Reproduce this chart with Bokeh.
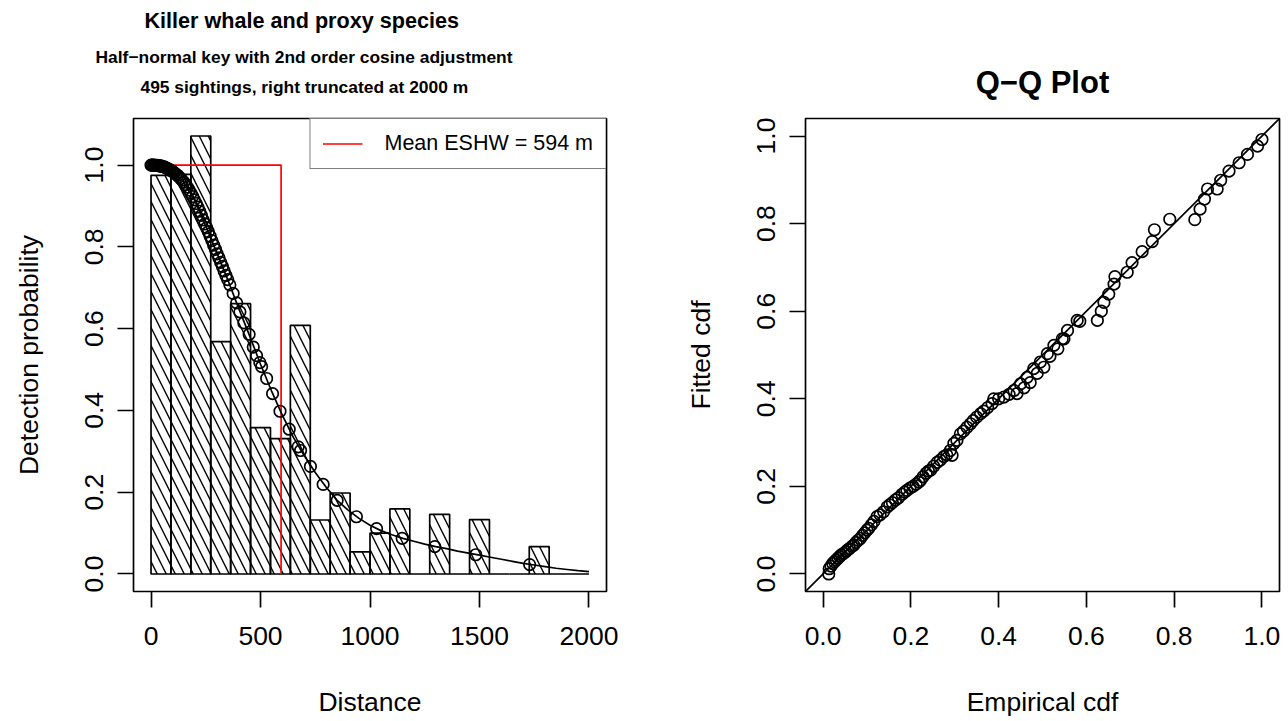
import numpy as np
from bokeh.plotting import figure
from bokeh.models import (FixedTicker, Title, Legend, LegendItem, Slope, Range1d,
                          PrintfTickFormatter)
from bokeh.layouts import row
from bokeh.embed import file_html
from bokeh.resources import INLINE

FONT = "Liberation Sans"

# ---------------- data: left panel (detection function) ----------------
truncation = 2000
eshw = 594
n_sightings = 495
hist_heights = [0.975, 0.977, 1.071, 0.568, 0.661, 0.358, 0.331, 0.608, 0.132, 0.198, 0.054,
                0.100, 0.159, 0.0, 0.146, 0.0, 0.133, 0.0, 0.0, 0.067, 0.0, 0.0]
curve_dist = [0, 50, 100, 150, 200, 250, 300, 350, 400, 450, 500, 550, 600, 650, 700, 750, 800,
              850, 900, 950, 1000, 1050, 1100, 1150, 1200, 1250, 1300, 1350, 1400, 1450, 1500,
              1550, 1600, 1650, 1700, 1750, 1800, 1850, 1900, 1950, 2000]
curve_prob = [1.000, 0.997, 0.984, 0.958, 0.913, 0.852, 0.786, 0.720, 0.650, 0.583, 0.513, 0.448,
              0.388, 0.334, 0.289, 0.248, 0.212, 0.180, 0.156, 0.136, 0.119, 0.106, 0.096, 0.087,
              0.080, 0.073, 0.067, 0.062, 0.056, 0.051, 0.046, 0.041, 0.036, 0.031, 0.026, 0.022,
              0.018, 0.014, 0.011, 0.008, 0.006]
obs_dist = [0, 4, 8, 12, 16, 20, 25, 30, 35, 40, 45, 50, 56, 62, 68, 74, 80, 87, 94, 100, 107, 114,
            121, 128, 135, 142, 150, 158, 166, 174, 182, 190, 198, 206, 214, 222, 230, 238, 246,
            254, 262, 270, 278, 286, 294, 302, 310, 318, 326, 334, 342, 350, 360, 375, 391, 406,
            424, 448, 467, 482, 497, 505, 528, 555, 589, 631, 672, 683, 728, 786, 850, 938, 1030,
            1147, 1296, 1483, 1729]
obs_prob = [1.000, 1.000, 1.000, 1.000, 0.999, 0.999, 0.999, 0.999, 0.998, 0.998, 0.998, 0.997,
            0.996, 0.995, 0.993, 0.992, 0.990, 0.988, 0.986, 0.984, 0.981, 0.978, 0.975, 0.971,
            0.967, 0.963, 0.958, 0.952, 0.946, 0.939, 0.931, 0.923, 0.915, 0.906, 0.897, 0.887,
            0.877, 0.866, 0.856, 0.847, 0.837, 0.826, 0.815, 0.804, 0.794, 0.783, 0.773, 0.762,
            0.752, 0.741, 0.730, 0.720, 0.707, 0.686, 0.663, 0.641, 0.614, 0.586, 0.555, 0.534,
            0.517, 0.507, 0.478, 0.441, 0.398, 0.354, 0.311, 0.302, 0.263, 0.219, 0.180, 0.140,
            0.111, 0.087, 0.067, 0.047, 0.023]
x_ticks_left = [0, 500, 1000, 1500, 2000]
y_ticks = [0.0, 0.2, 0.4, 0.6, 0.8, 1.0]

# ---------------- data: right panel (Q-Q plot) ----------------
emp_cdf = [0.013, 0.014, 0.018, 0.022, 0.026, 0.030, 0.034, 0.038, 0.042, 0.047,
           0.052, 0.056, 0.060, 0.066, 0.070, 0.075, 0.080, 0.085, 0.090, 0.095,
           0.100, 0.104, 0.110, 0.116, 0.123, 0.130, 0.138, 0.146, 0.152, 0.158,
           0.165, 0.172, 0.180, 0.186, 0.191, 0.198, 0.205, 0.212, 0.218, 0.222,
           0.228, 0.235, 0.240, 0.245, 0.252, 0.260, 0.267, 0.275, 0.282, 0.290,
           0.294, 0.298, 0.305, 0.313, 0.320, 0.328, 0.336, 0.342, 0.350, 0.359,
           0.366, 0.375, 0.385, 0.389, 0.400, 0.412, 0.424, 0.435, 0.442, 0.450,
           0.458, 0.465, 0.472, 0.480, 0.488, 0.495, 0.503, 0.511, 0.517, 0.526,
           0.535, 0.545, 0.549, 0.557, 0.579, 0.585, 0.625, 0.634, 0.640, 0.651,
           0.663, 0.665, 0.693, 0.704, 0.727, 0.750, 0.755, 0.790, 0.847, 0.859,
           0.869, 0.876, 0.898, 0.906, 0.925, 0.948, 0.967, 0.990, 1.000]
fit_cdf = [0.000, 0.012, 0.018, 0.024, 0.028, 0.032, 0.036, 0.040, 0.044, 0.047,
           0.051, 0.055, 0.058, 0.063, 0.066, 0.072, 0.077, 0.081, 0.088, 0.094,
           0.100, 0.104, 0.112, 0.120, 0.131, 0.135, 0.142, 0.153, 0.158, 0.163,
           0.169, 0.174, 0.182, 0.187, 0.191, 0.196, 0.200, 0.205, 0.210, 0.214,
           0.222, 0.230, 0.235, 0.237, 0.246, 0.255, 0.260, 0.268, 0.272, 0.282,
           0.271, 0.298, 0.305, 0.320, 0.326, 0.335, 0.343, 0.350, 0.358, 0.366,
           0.372, 0.380, 0.389, 0.400, 0.400, 0.404, 0.410, 0.419, 0.412, 0.434,
           0.425, 0.449, 0.437, 0.469, 0.458, 0.484, 0.472, 0.503, 0.497, 0.522,
           0.514, 0.537, 0.537, 0.556, 0.579, 0.577, 0.579, 0.600, 0.620, 0.639,
           0.662, 0.679, 0.689, 0.711, 0.736, 0.759, 0.786, 0.810, 0.809, 0.833,
           0.856, 0.879, 0.879, 0.899, 0.920, 0.939, 0.958, 0.977, 0.992]
qq_ticks = [0.0, 0.2, 0.4, 0.6, 0.8, 1.0]

LW = 1.7
AX_FONT = "26.5px"


def style_axes(p, xfmt=None):
    for ax in (p.xaxis[0], p.yaxis[0]):
        ax.axis_line_color = None
        ax.major_tick_line_color = "black"
        ax.major_tick_line_width = LW
        ax.major_tick_out = 16
        ax.major_tick_in = 0
        ax.minor_tick_line_color = None
        ax.major_label_text_font = FONT
        ax.major_label_text_font_size = AX_FONT
        ax.major_label_text_color = "black"
        ax.axis_label_text_font = FONT
        ax.axis_label_text_font_size = AX_FONT
        ax.axis_label_text_font_style = "normal"
        ax.axis_label_text_color = "black"
    p.xaxis[0].major_label_standoff = 19
    p.xaxis[0].axis_label_standoff = 39
    p.yaxis[0].major_label_standoff = 14
    p.yaxis[0].axis_label_standoff = 39
    p.yaxis[0].major_label_orientation = "vertical"
    p.yaxis[0].formatter = PrintfTickFormatter(format="%.1f")
    if xfmt:
        p.xaxis[0].formatter = PrintfTickFormatter(format=xfmt)
    p.xgrid.visible = False
    p.ygrid.visible = False
    p.outline_line_color = "black"
    p.outline_line_width = LW
    p.background_fill_color = "white"
    p.border_fill_color = "white"


def add_title(p, text, size, standoff, align="left", offset=0):
    p.add_layout(Title(text=text, align=align, offset=offset, standoff=standoff,
                       text_font=FONT, text_color="black", text_font_size=size,
                       text_font_style="bold"), "above")


# ---------------- left figure ----------------
ymax = max(hist_heights)
p1 = figure(width=644, height=721, output_backend="svg", toolbar_location=None,
            x_range=Range1d(-0.04 * truncation, 1.04 * truncation),
            y_range=Range1d(-0.04 * ymax, 1.04 * ymax),
            min_border_left=133, min_border_right=38, min_border_top=118, min_border_bottom=130,
            x_axis_label="Distance", y_axis_label="Detection probability")
style_axes(p1)
p1.xaxis[0].ticker = FixedTicker(ticks=x_ticks_left)
p1.yaxis[0].ticker = FixedTicker(ticks=y_ticks)

edges = np.linspace(0, truncation, len(hist_heights) + 1)
p1.quad(left=edges[:-1], right=edges[1:], bottom=0, top=hist_heights,
        fill_color="white", fill_alpha=0, line_color="black", line_width=LW,
        hatch_pattern="\\", hatch_color="black", hatch_scale=18, hatch_weight=1.4)
red = p1.line([0, eshw, eshw], [1, 1, 0], line_color="#FF0000", line_width=LW)
p1.line(curve_dist, curve_prob, line_color="black", line_width=LW)
p1.scatter(obs_dist, obs_prob, marker="circle", size=11.5, fill_alpha=0,
           line_color="black", line_width=LW)

legend = Legend(items=[LegendItem(label=f"Mean ESHW = {eshw} m", renderers=[red])],
                location="top_right", margin=0, padding=12, spacing=0,
                label_standoff=22, glyph_width=40, glyph_height=21, label_height=21,
                label_text_font=FONT, label_text_font_size="21.5px", label_text_color="black",
                border_line_color="black", border_line_width=LW,
                background_fill_color="white", background_fill_alpha=1.0)
p1.add_layout(legend)

# title block (stacked outward from the frame; first one is a small spacer)
add_title(p1, " ", "1px", 19)
add_title(p1, f"{n_sightings} sightings, right truncated at {truncation} m", "17.4px", 0,
          offset=7)
add_title(p1, "Half\u2212normal key with 2nd order cosine adjustment", "17.4px", 15, offset=-38)
add_title(p1, "Killer whale and proxy species", "21.6px", 10, offset=11)

# ---------------- right figure ----------------
p2 = figure(width=644, height=721, output_backend="svg", toolbar_location=None,
            x_range=Range1d(-0.04, 1.04), y_range=Range1d(-0.04, 1.04),
            min_border_left=161, min_border_right=9, min_border_top=118, min_border_bottom=130,
            x_axis_label="Empirical cdf", y_axis_label="Fitted cdf")
style_axes(p2, xfmt="%.1f")
p2.xaxis[0].ticker = FixedTicker(ticks=qq_ticks)
p2.yaxis[0].ticker = FixedTicker(ticks=qq_ticks)
p2.add_layout(Slope(gradient=1, y_intercept=0, line_color="black", line_width=LW))
p2.scatter(emp_cdf, fit_cdf, marker="circle", size=11.5, fill_alpha=0,
           line_color="black", line_width=LW)
add_title(p2, "Q\u2212Q Plot", "31px", 37, align="center")

layout = row(p1, p2)
open("out.html", "w").write(file_html(layout, INLINE))
